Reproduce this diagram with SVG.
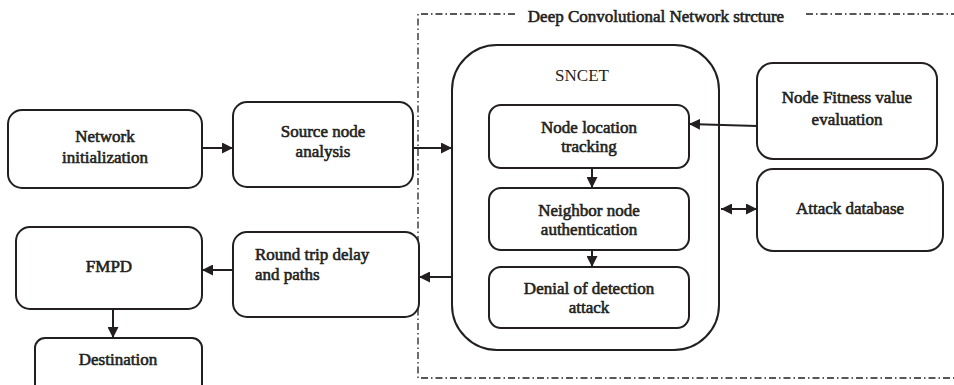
<svg xmlns="http://www.w3.org/2000/svg" width="954" height="385" viewBox="0 0 954 385">
<style>
.box{fill:#fff;stroke:#231f20;stroke-width:2}
.t{font-family:"Liberation Serif","Times New Roman",serif;font-size:17px;font-weight:normal;fill:#231f20;stroke:#231f20;stroke-width:0.6;text-anchor:middle}
.r{stroke:none}
.s{text-anchor:start}
.c{stroke:#231f20;stroke-width:2;fill:none}
.frame{fill:none;stroke:#231f20;stroke-width:1.3;stroke-dasharray:7 3 1.5 3}
</style>
<defs>
<marker id="ah" viewBox="0 0 10 10" refX="10" refY="5" markerWidth="5.5" markerHeight="5.5" orient="auto-start-reverse" markerUnits="strokeWidth">
<path d="M0,0 L10,5 L0,10 z" fill="#231f20"/>
</marker>
</defs>
<rect width="954" height="385" fill="#fff"/>
<g id="frame">
<path class="frame" d="M515,14 L418,14 L418,378 L954,378"/>
<path class="frame" d="M806,14 L954,14"/>
<text class="t" x="656" y="22">Deep Convolutional Network strcture</text>
</g>
<g id="net-init"><rect class="box" x="8" y="110" width="194" height="78" rx="14"/><text class="t" x="105" y="142">Network</text><text class="t" x="105" y="163">initialization</text></g>
<g id="source"><rect class="box" x="233" y="102" width="180" height="85" rx="14"/><text class="t" x="323" y="137">Source node</text><text class="t" x="323" y="157">analysis</text></g>
<g id="sncet"><rect class="box" x="452" y="45" width="267" height="305" rx="45"/><text class="t r" x="582" y="81">SNCET</text></g>
<g id="nlt"><rect class="box" x="489" y="105" width="200" height="63" rx="12"/><text class="t" x="589" y="133">Node location</text><text class="t" x="589" y="152">tracking</text></g>
<g id="nna"><rect class="box" x="489" y="188" width="200" height="62" rx="12"/><text class="t" x="589" y="216">Neighbor node</text><text class="t" x="589" y="235">authentication</text></g>
<g id="dda"><rect class="box" x="489" y="267" width="200" height="61" rx="12"/><text class="t" x="589" y="294">Denial of detection</text><text class="t" x="589" y="313">attack</text></g>
<g id="fitness"><rect class="box" x="757" y="63" width="180" height="96" rx="16"/><text class="t" x="847" y="103">Node Fitness value</text><text class="t" x="847" y="125">evaluation</text></g>
<g id="attackdb"><rect class="box" x="757" y="169" width="186" height="82" rx="16"/><text class="t" x="850" y="214">Attack database</text></g>
<g id="round"><rect class="box" x="233" y="232" width="186" height="85" rx="14"/><text class="t s" x="255" y="260">Round trip delay</text><text class="t s" x="255" y="280">and paths</text></g>
<g id="fmpd"><rect class="box" x="16" y="227" width="186" height="82" rx="14"/><text class="t" x="109" y="272">FMPD</text></g>
<g id="dest"><rect class="box" x="35" y="338" width="167" height="60" rx="10"/><text class="t" x="118" y="365">Destination</text></g>
<g id="connectors">
<line class="c" x1="202" y1="148" x2="233" y2="148" marker-end="url(#ah)"/>
<line class="c" x1="413" y1="148" x2="452" y2="148" marker-end="url(#ah)"/>
<line class="c" x1="757" y1="126" x2="689" y2="124" marker-end="url(#ah)"/>
<line class="c" x1="721" y1="209" x2="757" y2="209" marker-start="url(#ah)" marker-end="url(#ah)"/>
<line class="c" x1="592" y1="168" x2="592" y2="188" marker-end="url(#ah)"/>
<line class="c" x1="592" y1="250" x2="592" y2="267" marker-end="url(#ah)"/>
<line class="c" x1="452" y1="277" x2="419" y2="277" marker-end="url(#ah)"/>
<line class="c" x1="233" y1="270" x2="202" y2="270" marker-end="url(#ah)"/>
<line class="c" x1="113" y1="309" x2="113" y2="338" marker-end="url(#ah)"/>
</g>
</svg>
